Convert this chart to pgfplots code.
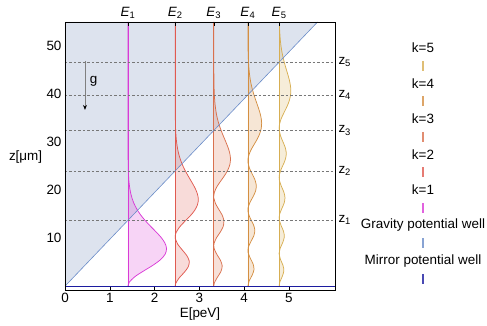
\documentclass[border=0pt]{standalone}
\usepackage{fontspec}
\setmainfont{Liberation Sans}
\usepackage{pgfplots}
\pgfplotsset{compat=1.18}
\usetikzlibrary{arrows.meta}

\definecolor{kone}{HTML}{D93BD6}
\definecolor{ktwo}{HTML}{E05A50}
\definecolor{kthree}{HTML}{D9714E}
\definecolor{kfour}{HTML}{D48F42}
\definecolor{kfive}{HTML}{D7AE52}
\definecolor{gravline}{HTML}{6A8CC8}
\definecolor{gravfill}{HTML}{DDE3EE}
\definecolor{mirror}{HTML}{1C1CA0}
\definecolor{dashgray}{HTML}{777777}

\newcommand{\fs}{\fontsize{13.5}{16}\selectfont}
\tikzset{legline/.style={#1, opacity=0.8, line width=1.2pt}}

\begin{document}
\begin{tikzpicture}
\pgfplotsset{
  base/.style={
    scale only axis, width=270bp, height=268bp,
    xmin=0, xmax=6.03, ymin=-0.8, ymax=55,
    at={(0,0)}, anchor=south west,
    tick align=inside, major tick length=4bp,
    tick style={black, line width=0.5pt},
    font=\fs, tick label style={font=\fs},
    /pgf/number format/assume math mode=true,
    axis line style={black, line width=0.6pt},
  },
  wave/.style={draw=#1, fill=#1, fill opacity=0.22, draw opacity=1, smooth, line width=0.75pt},
  zline/.style={dashgray, line width=0.6pt, dash pattern=on 2.5bp off 2bp},
}
\begin{axis}[base, name=ax,
    xtick pos=left, ytick pos=left,
    xtick={0,1,2,3,4,5}, ytick={10,20,30,40,50},
    xlabel={E[peV]}, ylabel={z[μm]},
    xlabel style={at={(axis description cs:0.5,-0.09)}, anchor=center},
    ylabel style={rotate=-90, at={(axis description cs:-0.146,0.496)}, anchor=center},
]
% gravity potential region
\addplot[draw=none, fill=gravfill] coordinates {(0,0)(5.64,55)(0,55)};

% k=1
\addplot[wave=kone] coordinates {(1.407,0) (1.435,0.811) (1.562,1.985) (1.755,3.159) (1.961,4.333) (2.132,5.507) (2.238,6.681) (2.268,7.855) (2.229,9.029) (2.142,10.203) (2.026,11.377) (1.902,12.551) (1.785,13.725) (1.684,14.899) (1.602,16.073) (1.539,17.247) (1.494,18.421) (1.462,19.595) (1.441,20.769) (1.427,21.943) (1.419,23.117) (1.414,24.291) (1.411,25.465) (1.408,28) (1.407,32) (1.407,55)};
\addplot[kone, line width=0.75pt] coordinates {(1.407,0)(1.407,55)};

% k=2
\addplot[wave=ktwo] coordinates {(2.461,0) (2.470,0.516) (2.547,1.690) (2.663,2.864) (2.753,4.038) (2.775,5.212) (2.719,6.386) (2.617,7.560) (2.518,8.734) (2.464,9.908) (2.461,10.271) (2.478,11.082) (2.554,12.256) (2.670,13.430) (2.794,14.604) (2.896,15.778) (2.959,16.952) (2.978,18.126) (2.954,19.300) (2.902,20.474) (2.832,21.648) (2.758,22.822) (2.688,23.996) (2.627,25.170) (2.578,26.344) (2.540,27.518) (2.513,28.692) (2.494,29.866) (2.481,31.040) (2.473,32.214) (2.468,33.388) (2.465,34.562) (2.463,35.736) (2.461,40) (2.461,55)};
\addplot[ktwo, line width=0.75pt] coordinates {(2.461,0)(2.461,55)};

% k=3
\addplot[wave=kthree] coordinates {(3.323,0) (3.337,0.708) (3.406,1.882) (3.483,3.056) (3.511,4.230) (3.471,5.404) (3.394,6.578) (3.333,7.752) (3.323,8.410) (3.329,8.926) (3.385,10.100) (3.469,11.274) (3.534,12.448) (3.549,13.622) (3.510,14.796) (3.436,15.970) (3.364,17.144) (3.325,18.318) (3.323,18.681) (3.335,19.492) (3.390,20.666) (3.474,21.840) (3.563,23.014) (3.637,24.188) (3.683,25.362) (3.696,26.536) (3.679,27.710) (3.641,28.884) (3.591,30.058) (3.538,31.232) (3.487,32.406) (3.443,33.580) (3.407,34.754) (3.380,35.928) (3.361,37.102) (3.347,38.276) (3.338,39.450) (3.332,40.624) (3.328,41.798) (3.326,42.972) (3.325,44.146) (3.323,48) (3.323,55)};
\addplot[kthree, line width=0.75pt] coordinates {(3.323,0)(3.323,55)};

% k=4
\addplot[wave=kfour] coordinates {(4.085,0) (4.114,1.096) (4.179,2.270) (4.221,3.444) (4.201,4.618) (4.139,5.792) (4.090,6.966) (4.085,7.432) (4.096,8.140) (4.153,9.314) (4.217,10.488) (4.240,11.662) (4.207,12.836) (4.143,14.010) (4.094,15.184) (4.085,15.842) (4.090,16.358) (4.136,17.532) (4.205,18.706) (4.259,19.880) (4.271,21.054) (4.239,22.228) (4.178,23.402) (4.119,24.576) (4.087,25.750) (4.085,26.113) (4.095,26.924) (4.140,28.098) (4.209,29.272) (4.283,30.446) (4.344,31.620) (4.381,32.794) (4.392,33.968) (4.378,35.142) (4.347,36.316) (4.306,37.490) (4.262,38.664) (4.220,39.838) (4.184,41.012) (4.154,42.186) (4.132,43.360) (4.116,44.534) (4.105,45.708) (4.097,46.882) (4.092,48.056) (4.089,49.230) (4.087,50.404) (4.086,51.578) (4.085,55)};
\addplot[kfour, line width=0.75pt] coordinates {(4.085,0)(4.085,55)};

% k=5
\addplot[wave=kfive] coordinates {(4.782,0) (4.798,0.846) (4.852,2.020) (4.888,3.194) (4.867,4.368) (4.813,5.542) (4.782,6.716) (4.782,6.794) (4.806,7.890) (4.862,9.064) (4.898,10.238) (4.881,11.412) (4.828,12.586) (4.786,13.760) (4.782,14.226) (4.792,14.934) (4.840,16.108) (4.894,17.282) (4.913,18.456) (4.886,19.630) (4.832,20.804) (4.789,21.978) (4.782,22.636) (4.787,23.152) (4.826,24.326) (4.884,25.500) (4.930,26.674) (4.941,27.848) (4.913,29.022) (4.861,30.196) (4.811,31.370) (4.784,32.544) (4.782,32.907) (4.791,33.718) (4.829,34.892) (4.888,36.066) (4.950,37.240) (5.002,38.414) (5.034,39.588) (5.043,40.762) (5.032,41.936) (5.005,43.110) (4.970,44.284) (4.932,45.458) (4.897,46.632) (4.866,47.806) (4.841,48.980) (4.822,50.154) (4.808,51.328) (4.799,52.502) (4.792,53.676) (4.788,54.850) (4.782,55)};
\addplot[kfive, line width=0.75pt] coordinates {(4.782,0)(4.782,55)};

% gravity potential
\addplot[gravline, line width=0.6pt] coordinates {(0,0)(5.64,55)};

% classical turning points z_k
\addplot[zline] coordinates {(0,13.725)(6.03,13.725)};
\addplot[zline] coordinates {(0,23.996)(6.03,23.996)};
\addplot[zline] coordinates {(0,32.406)(6.03,32.406)};
\addplot[zline] coordinates {(0,39.838)(6.03,39.838)};
\addplot[zline] coordinates {(0,46.632)(6.03,46.632)};

% mirror
\addplot[mirror, line width=1.3pt] coordinates {(0,0)(6.03,0)};

% gravity arrow
\draw[gray, line width=0.7pt, -{Stealth[black, length=5bp, width=4bp]}] (axis cs:0.446,46.9) -- (axis cs:0.446,36.7);
\node[font=\fs] at (axis cs:0.64,42.6) {g};
\end{axis}

\begin{axis}[base,
    xtick pos=right, ytick pos=right,
    xtick={1.407,2.461,3.323,4.085,4.782},
    xticklabels={\textit{E}\textsubscript{1},\textit{E}\textsubscript{2},\textit{E}\textsubscript{3},\textit{E}\textsubscript{4},\textit{E}\textsubscript{5}},
    ytick={13.725,23.996,32.406,39.838,46.632},
    yticklabels={z\textsubscript{1},z\textsubscript{2},z\textsubscript{3},z\textsubscript{4},z\textsubscript{5}},
    ytick style={draw=none},
]
\end{axis}

% legend
\begin{scope}[shift={(ax.south west)}, font=\fs]
\node at (358bp,242bp) {k=5};
\draw[legline=kfive] (358bp,229bp) -- (358bp,219bp);
\node at (358bp,206.5bp) {k=4};
\draw[legline=kfour] (358bp,193.5bp) -- (358bp,183.5bp);
\node at (358bp,171bp) {k=3};
\draw[legline=kthree] (358bp,158bp) -- (358bp,148bp);
\node at (358bp,135.5bp) {k=2};
\draw[legline=ktwo] (358bp,122.5bp) -- (358bp,112.5bp);
\node at (358bp,100bp) {k=1};
\draw[legline=kone] (358bp,87bp) -- (358bp,77bp);
\node at (358bp,64.5bp) {Gravity potential well};
\draw[legline=gravline] (358bp,51.5bp) -- (358bp,41.5bp);
\node at (358bp,29bp) {Mirror potential well};
\draw[legline=mirror] (358bp,16bp) -- (358bp,6bp);
\end{scope}

\pgfresetboundingbox
\path (ax.south west) ++(-65bp,-36bp) rectangle ++(487bp,326bp);
\end{tikzpicture}
\end{document}
